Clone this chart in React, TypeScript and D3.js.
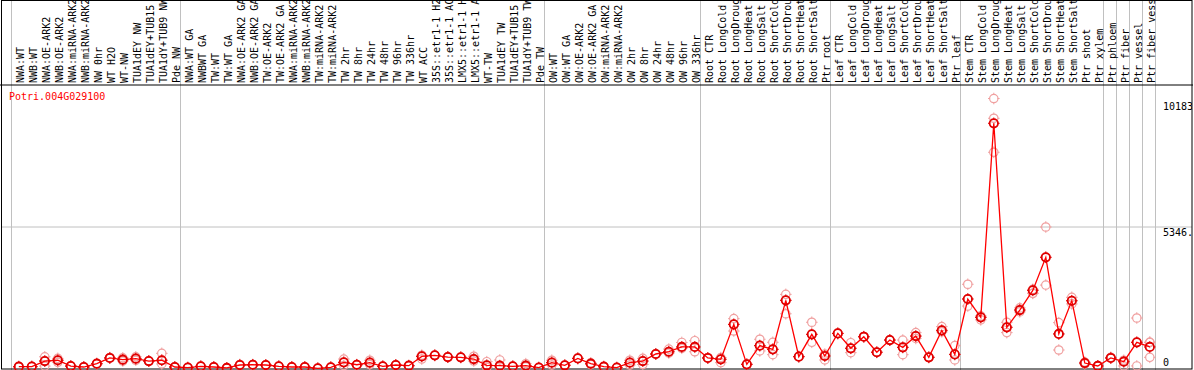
import React from 'react';
import * as d3 from 'd3';

const title = 'Potri.004G029100';

const categories = [
  'NWA:WT', 'NWB:WT', 'NWA:OE-ARK2', 'NWB:OE-ARK2', 'NWA:miRNA-ARK2', 'NWB:miRNA-ARK2', 'NW 0hr', 'WT H2O', 'WT-NW', 'TUA1dEY NW', 'TUA1dEY+TUB15', 'TUA1dY+TUB9 NW', 'Pde NW',
  'NWA:WT GA', 'NWBWT GA', 'TW:WT', 'TW:WT GA', 'NWA:OE-ARK2 GA', 'NWB:OE-ARK2 GA', 'TW:OE-ARK2', 'TW:OE-ARK2 GA', 'NWA:miRNA-ARK2', 'NWB:miRNA-ARK2', 'TW:miRNA-ARK2', 'TW:miRNA-ARK2',
  'TW 2hr', 'TW 8hr', 'TW 24hr', 'TW 48hr', 'TW 96hr', 'TW 336hr', 'WT ACC', '35S::etr1-1 H2O', '35S::etr1-1 ACC', 'LMX5::etr1-1 H2O', 'LMX5::etr1-1 ACC', 'WT-TW', 'TUA1dEY TW', 'TUA1dEY+TUB15 TW', 'TUA1dY+TUB9 TW', 'Pde TW',
  'OW:WT', 'OW:WT GA', 'OW:OE-ARK2', 'OW:OE-ARK2 GA', 'OW:miRNA-ARK2', 'OW:miRNA-ARK2', 'OW 2hr', 'OW 8hr', 'OW 24hr', 'OW 48hr', 'OW 96hr', 'OW 336hr',
  'Root CTR', 'Root LongCold', 'Root LongDrought', 'Root LongHeat', 'Root LongSalt', 'Root ShortCold', 'Root ShortDrought', 'Root ShortHeat', 'Root ShortSalt', 'Ptr root',
  'Leaf CTR', 'Leaf LongCold', 'Leaf LongDrought', 'Leaf LongHeat', 'Leaf LongSalt', 'Leaf ShortCold', 'Leaf ShortDrought', 'Leaf ShortHeat', 'Leaf ShortSalt', 'Ptr leaf',
  'Stem CTR', 'Stem LongCold', 'Stem LongDrought', 'Stem LongHeat', 'Stem LongSalt', 'Stem ShortCold', 'Stem ShortDrought', 'Stem ShortHeat', 'Stem ShortSalt', 'Ptr shoot', 'Ptr xylem',
  'Ptr phloem', 'Ptr fiber', 'Ptr vessel', 'Ptr fiber vessel',
];

// indices where a group separator line is drawn (left edge of that column)
const groupBreaks = [0, 13, 41, 53, 63, 73, 84, 85, 86, 87, 88];

const means = [
  87, 90, 300, 330, 110, 75, 200, 415, 350, 390, 300, 330, 75,
  50, 100, 75, 40, 150, 160, 150, 100, 75, 75, 25, 65, 250, 160, 240, 100, 150, 125, 475, 515, 450, 440, 375, 140, 125, 100, 125, 50,
  240, 140, 400, 200, 87, 50, 240, 300, 565, 650, 830, 830,
  415, 365, 1680, 175, 880, 740, 2585, 465, 1305, 490,
  1340, 780, 1215, 630, 1090, 815, 1240, 440, 1455, 550,
  2635, 1945, 9250, 1570, 2220, 2960, 4205, 1320, 2570, 225, 115,
  415, 275, 1005, 830,
];

const repHigh = [
  87, 90, 460, 400, 110, 75, 200, 430, 420, 460, 300, 590, 75,
  50, 100, 75, 40, 170, 160, 150, 100, 75, 75, 25, 65, 375, 160, 330, 100, 150, 125, 520, 515, 450, 440, 480, 275, 340, 100, 200, 50,
  330, 140, 400, 230, 87, 50, 330, 400, 565, 750, 1000, 1065,
  415, 430, 1895, 175, 1120, 1005, 2810, 465, 1760, 560,
  1340, 990, 1215, 630, 1090, 1090, 1370, 440, 1595, 880,
  3190, 2000, 10183, 1760, 2300, 3000, 5346, 1745, 2700, 260, 115,
  440, 330, 1920, 1005,
];

const repMid = [
  87, 90, 300, 330, 110, 75, 200, 415, 350, 390, 300, 330, 75,
  50, 100, 75, 40, 150, 160, 150, 100, 75, 75, 25, 65, 250, 160, 240, 100, 150, 125, 475, 515, 450, 440, 375, 140, 125, 100, 125, 50,
  240, 140, 400, 200, 87, 50, 240, 300, 565, 650, 830, 830,
  415, 365, 1680, 175, 880, 740, 2585, 465, 1305, 490,
  1340, 780, 1215, 630, 1090, 815, 1240, 440, 1455, 550,
  2635, 1945, 9440, 1570, 2220, 2850, 4205, 1320, 2570, 225, 115,
  415, 275, 1005, 1005,
];

const repLow = [
  87, 90, 110, 250, 110, 75, 200, 415, 300, 330, 300, 190, 75,
  50, 100, 75, 40, 150, 160, 150, 100, 75, 75, 25, 65, 130, 160, 170, 100, 150, 125, 375, 515, 450, 440, 300, 60, 80, 100, 80, 50,
  150, 140, 400, 170, 87, 50, 150, 170, 565, 600, 780, 650,
  415, 240, 1430, 175, 680, 540, 2080, 465, 1005, 340,
  1340, 615, 1215, 630, 1090, 540, 1150, 440, 1400, 340,
  2370, 1850, 8160, 1370, 2150, 2850, 3160, 715, 2450, 190, 115,
  415, 115, 115, 440,
];

const maxValue = 10183;
const midTick = 5346;
const tickLabels = ['0', '5346.', '10183'];

const W = 1194;
const H = 370;
const FONT = '"DejaVu Sans Mono", monospace';

function Marker({ cx, cy, color, sw }: { cx: number; cy: number; color: string; sw: number }) {
  const r = 4.2;
  const t = 1.6;
  return (
    <g>
      <circle cx={cx} cy={cy} r={r} fill="none" stroke={color} strokeWidth={sw} />
      <line x1={cx} x2={cx} y1={cy - r - t} y2={cy - r + 0.5} stroke={color} strokeWidth={1} />
      <line x1={cx} x2={cx} y1={cy + r - 0.5} y2={cy + r + t} stroke={color} strokeWidth={1} />
      <line x1={cx - r - t} x2={cx - r + 0.5} y1={cy} y2={cy} stroke={color} strokeWidth={1} />
      <line x1={cx + r - 0.5} x2={cx + r + t} y1={cy} y2={cy} stroke={color} strokeWidth={1} />
    </g>
  );
}

export default function App() {
  const n = categories.length;
  const x = d3.scaleLinear().domain([0, n]).range([11, 1155]);
  const y = d3.scaleLinear().domain([0, maxValue * 1.05]).range([369, 85]);
  const line = d3
    .line<number>()
    .x((_, i) => x(i + 0.6))
    .y((d) => y(d));

  const tickVals = [0, midTick, maxValue];
  const tickY = [y(0) - 3, y(midTick) + 8.5, y(maxValue) + 11.5];

  return (
    <svg
      width={W}
      height={H}
      style={{ position: 'absolute', left: 0, top: 0, background: '#fff' }}
      fontFamily={FONT}
    >
      <defs>
        <clipPath id="clipAll">
          <rect x={0} y={0} width={1192} height={H} />
        </clipPath>
      </defs>
      <rect x={0} y={0} width={W} height={H} fill="#fff" />
      {/* mid grid line */}
      <line x1={1} x2={1192} y1={y(midTick)} y2={y(midTick)} stroke="#c0c0c0" strokeWidth={1} />
      {/* group separators */}
      {groupBreaks.map((b) => (
        <line key={b} x1={Math.round(x(b)) + 0.5} x2={Math.round(x(b)) + 0.5} y1={0} y2={H} stroke="#c0c0c0" strokeWidth={1} />
      ))}
      {/* category labels */}
      <g clipPath="url(#clipAll)">
        {categories.map((c, i) => (
          <text
            key={i}
            transform={`translate(${x(i + 0.97)},83) rotate(-90)`}
            fontSize={10}
            fill="#000"
          >
            {c}
          </text>
        ))}
      </g>
      {/* frame */}
      <line x1={0} x2={1193} y1={85} y2={85} stroke="#000" strokeWidth={1} />
      <rect x={1.5} y={0.5} width={1190.5} height={368.5} fill="none" stroke="#000" strokeWidth={1} />
      {/* title */}
      <text x={9} y={100} fontSize={10} fill="#ff0000">{title}</text>
      {/* y tick labels */}
      <g clipPath="url(#clipAll)">
        {tickVals.map((v, k) => (
          <text key={k} x={1163} y={tickY[k]} fontSize={10} fill="#000">{tickLabels[k]}</text>
        ))}
      </g>
      {/* replicate markers */}
      {[repLow, repMid, repHigh].map((arr, k) =>
        arr.map((v, i) => (
          <Marker key={`${k}-${i}`} cx={x(i + 0.6)} cy={y(v)} color="#f0a0a0" sw={1.2} />
        ))
      )}
      {/* mean line */}
      <path d={line(means) || ''} fill="none" stroke="#ff0000" strokeWidth={1.3} />
      {means.map((v, i) => (
        <Marker key={i} cx={x(i + 0.6)} cy={y(v)} color="#e00000" sw={1.8} />
      ))}
    </svg>
  );
}
